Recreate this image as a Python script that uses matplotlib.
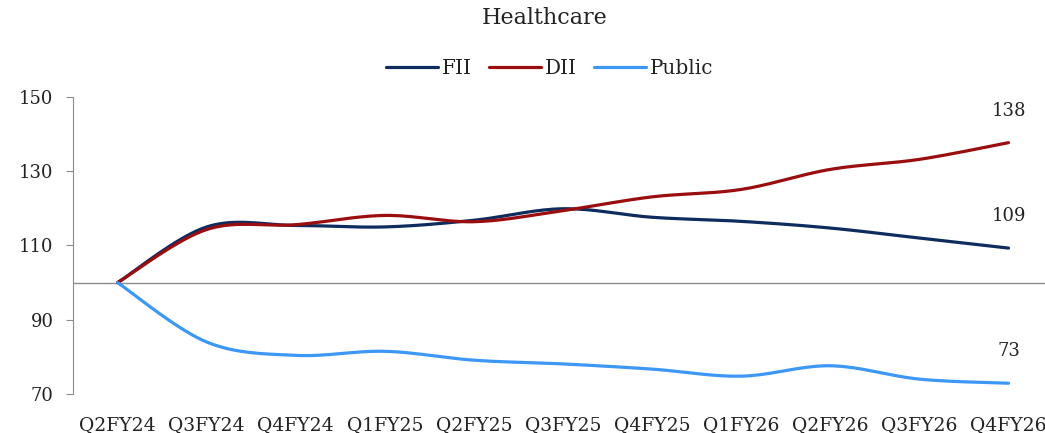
import matplotlib
matplotlib.use("Agg")
import matplotlib.pyplot as plt
import numpy as np

quarters = ["Q2FY24", "Q3FY24", "Q4FY24", "Q1FY25", "Q2FY25", "Q3FY25",
            "Q4FY25", "Q1FY26", "Q2FY26", "Q3FY26", "Q4FY26"]
fii = [100, 115.0, 115.4, 115.0, 116.8, 119.9, 117.6, 116.5, 114.7, 112.0, 109.3]
dii = [100, 114.3, 115.6, 118.1, 116.4, 119.4, 123.1, 125.1, 130.5, 133.2, 137.7]
public = [100, 84.0, 80.4, 81.5, 79.1, 78.1, 76.7, 74.8, 77.6, 74.0, 72.9]

colors = {"FII": "#0E2D5E", "DII": "#9A0E10", "Public": "#3D97F5"}

plt.rcParams["font.family"] = ["DejaVu Serif"]
plt.rcParams["text.color"] = "#222222"


def smooth(y, steps=20):
    """Excel-like smoothed line (Catmull-Rom through the points)"""
    y = np.asarray(y, dtype=float)
    x = np.arange(len(y), dtype=float)
    px = np.concatenate([[x[0]], x, [x[-1]]])
    py = np.concatenate([[y[0]], y, [y[-1]]])
    xs, ys = [], []
    t = np.linspace(0, 1, steps)
    for i in range(1, len(px) - 2):
        # bezier control points
        c1x = px[i] + (px[i + 1] - px[i - 1]) / 6
        c1y = py[i] + (py[i + 1] - py[i - 1]) / 6
        c2x = px[i + 1] - (px[i + 2] - px[i]) / 6
        c2y = py[i + 1] - (py[i + 2] - py[i]) / 6
        bx = ((1 - t) ** 3 * px[i] + 3 * (1 - t) ** 2 * t * c1x
              + 3 * (1 - t) * t ** 2 * c2x + t ** 3 * px[i + 1])
        by = ((1 - t) ** 3 * py[i] + 3 * (1 - t) ** 2 * t * c1y
              + 3 * (1 - t) * t ** 2 * c2y + t ** 3 * py[i + 1])
        xs.append(bx)
        ys.append(by)
    return np.concatenate(xs), np.concatenate(ys)


fig = plt.figure(figsize=(10.45, 4.33), dpi=100)
ax = fig.add_axes([0.0699, 0.0901, 0.9378, 0.6859])

ax.axhline(100, color="#8C8C8C", lw=1.0, zorder=1)

series = [("FII", fii), ("DII", dii), ("Public", public)]
for name, vals in series:
    sx, sy = smooth(vals)
    ax.plot(sx, sy, color=colors[name], lw=2.3, label=name, zorder=3,
            solid_capstyle="round")
    ax.annotate(f"{vals[-1]:.0f}", (len(vals) - 1, vals[-1]), xytext=(0, 23),
                textcoords="offset points", ha="center", va="center",
                fontsize=13, color="#222222")

ax.set_xlim(-0.5, 10.5)
ax.set_ylim(70, 150)
ax.set_yticks([70, 90, 110, 130, 150])
ax.set_xticks(range(len(quarters)))
ax.set_xticklabels(quarters)

for s in ["top", "right", "bottom"]:
    ax.spines[s].set_visible(False)
ax.spines["left"].set_color("#8C8C8C")
ax.tick_params(axis="y", length=5, color="#8C8C8C", labelsize=13, pad=9,
               labelcolor="#222222")
ax.tick_params(axis="x", length=0, labelsize=13.5, pad=16, labelcolor="#222222")

fig.text(0.5215, 1 - 18 / 433, "Healthcare", ha="center", va="center",
         fontsize=16)
fig.legend(loc="center", bbox_to_anchor=(0.526, 1 - 68 / 433), ncol=3,
           frameon=False, fontsize=14.4, handlelength=2.6, handletextpad=0.15,
           columnspacing=0.9)

fig.savefig("out.png", dpi=100)
